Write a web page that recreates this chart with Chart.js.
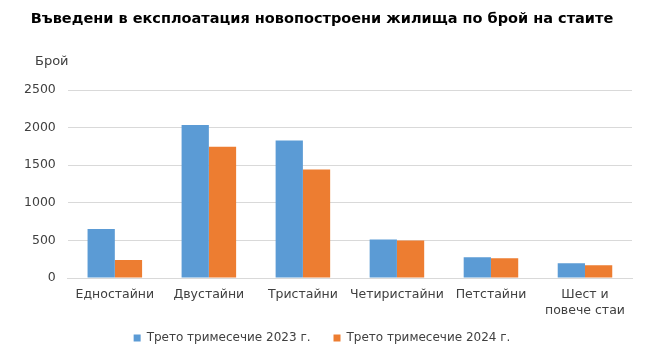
<!DOCTYPE html>
<html>
<head>
    <title>Въведени в експлоатация новопостроени жилища</title>
    <script src="https://cdn.jsdelivr.net/npm/chart.js@4"></script>
    <style>
        body { margin: 0; background: #fff; }
        #wrap { width: 645px; height: 358px; }
    </style>
</head>
<body>
    <div id="wrap"><canvas id="chart"></canvas></div>
    <script>
        // Data
        const categories = ["Едностайни", "Двустайни", "Тристайни", "Четиристайни", "Петстайни", ["Шест и", "повече стаи"]];
        const q3_2023 = [650, 2035, 1830, 512, 276, 196];
        const q3_2024 = [241, 1745, 1443, 498, 263, 170];
        const yTicks = [0, 500, 1000, 1500, 2000, 2500];

        const fontFamily = "'DejaVu Sans', Verdana, sans-serif";

        // "Брой" unit label above the y axis
        const unitLabel = {
            id: "unitLabel",
            afterDraw(chart) {
                const ctx = chart.ctx;
                ctx.save();
                ctx.font = "13px " + fontFamily;
                ctx.fillStyle = "#404040";
                ctx.textBaseline = "middle";
                ctx.fillText("Брой", 35, 62);
                ctx.restore();
            }
        };

        // legend is limited in height (maxHeight) and moved up under the axis labels
        const legendShift = {
            id: "legendShift",
            afterLayout(chart) {
                const lg = chart.legend;
                lg.top = chart.chartArea.bottom + 31;
                lg.bottom = chart.height;
            }
        };

        new Chart(document.getElementById("chart"), {
            type: "bar",
            data: {
                labels: categories,
                datasets: [
                    { label: "Трето тримесечие 2023 г.", data: q3_2023, backgroundColor: "#5B9BD5" },
                    { label: "Трето тримесечие 2024 г.", data: q3_2024, backgroundColor: "#ED7D31" }
                ]
            },
            options: {
                responsive: true,
                maintainAspectRatio: false,
                animation: false,
                categoryPercentage: 0.58,
                barPercentage: 1.0,
                layout: { padding: { left: 12, right: 13, top: 0, bottom: 0 } },
                plugins: {
                    title: {
                        display: true,
                        text: "Въведени в експлоатация новопостроени жилища по брой на стаите",
                        color: "#000",
                        font: { family: fontFamily, size: 14.5, weight: "bold" },
                        padding: { top: 11, bottom: 61.6 }
                    },
                    legend: {
                        position: "bottom",
                        maxHeight: 36,
                        labels: {
                            color: "#404040",
                            font: { family: fontFamily, size: 12 },
                            boxWidth: 7,
                            boxHeight: 7,
                            padding: 23
                        }
                    },
                    tooltip: { enabled: false }
                },
                scales: {
                    x: {
                        grid: { display: false, drawTicks: false },
                        border: { color: "#d9d9d9" },
                        afterFit(scale) { scale.height = 44; },
                        ticks: {
                            color: "#404040",
                            font: { family: fontFamily, size: 12.5, lineHeight: 1.28 },
                            padding: 9,
                            maxRotation: 0,
                            autoSkip: false
                        }
                    },
                    y: {
                        min: 0,
                        max: 2500,
                        afterBuildTicks(axis) { axis.ticks = yTicks.map(v => ({ value: v })); },
                        grid: { color: "#d9d9d9", drawTicks: false },
                        border: { display: false },
                        ticks: {
                            color: "#404040",
                            font: { family: fontFamily, size: 12.5 },
                            padding: 12,
                            callback: v => String(v)
                        }
                    }
                }
            },
            plugins: [unitLabel, legendShift]
        });
    </script>
</body>
</html>
